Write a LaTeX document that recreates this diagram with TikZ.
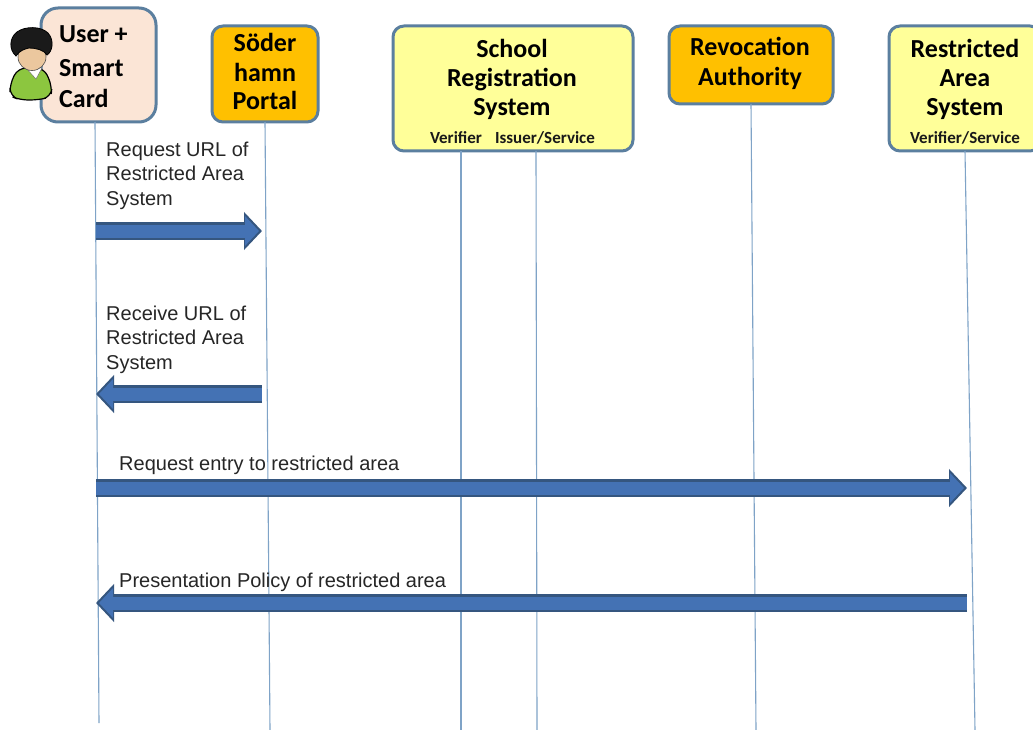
\documentclass[tikz,border=0pt]{standalone}
\usepackage{fontspec}
\setmainfont{Liberation Sans}
\newfontfamily\boxfont{Carlito}[BoldFont=Carlito Bold]
\usetikzlibrary{arrows.meta}
\definecolor{edgeblue}{HTML}{5B7F9F}
\definecolor{lifeblue}{HTML}{7FA3C7}
\definecolor{peach}{HTML}{FBE5D6}
\definecolor{amber}{HTML}{FFC000}
\definecolor{paleyellow}{HTML}{FFFF99}
\definecolor{arrowfill}{HTML}{4472B4}
\definecolor{arrowedge}{HTML}{35567F}
\definecolor{hair}{HTML}{1A1A1A}
\definecolor{skin}{HTML}{EBC79E}
\definecolor{shirt}{HTML}{8CC63F}
\tikzset{
  x=1pt,y=-1pt,
  actor/.style={draw=edgeblue,line width=3pt,rectangle,rounded corners=11pt,inner sep=0pt},
  lifeline/.style={draw=lifeblue,line width=1.1pt},
  bigarrow/.style={line width=18pt,draw=arrowedge,-{Triangle[length=18pt,width=37pt,fill=arrowedge]},
    postaction={draw=arrowfill,line width=13pt,shorten >=3pt,-{Triangle[length=14pt,width=29pt,fill=arrowfill]}}},
  boxtext/.style={font=\boxfont\bfseries\fontsize{26}{28}\selectfont,text=black,anchor=base,inner sep=0pt},
  smalltext/.style={font=\boxfont\bfseries\fontsize{17}{19}\selectfont,text=black!90,anchor=base,inner sep=0pt},
  msg/.style={font=\fontsize{20}{24.5}\selectfont,text=black!85,anchor=north west,align=left,inner sep=0pt},
}
\begin{document}
\begin{tikzpicture}
\useasboundingbox (0,0) rectangle (1033,730);
\clip (0,0) rectangle (1033,730);
\fill[white] (0,0) rectangle (1033,730);
% lifeline ends
\coordinate (userTop) at (95,122);   \coordinate (userEnd) at (99,723);
\coordinate (portTop) at (265,122);  \coordinate (portEnd) at (270,730);
\coordinate (verTop) at (461,151);   \coordinate (verEnd) at (461,730);
\coordinate (issTop) at (536,151);   \coordinate (issEnd) at (537,730);
\coordinate (revTop) at (751,104);   \coordinate (revEnd) at (756,730);
\coordinate (resTop) at (965,151);   \coordinate (resEnd) at (975,730);
% boxes
\node[actor,fill=peach,rounded corners=17pt,minimum width=115pt,minimum height=114pt] (user) at (98.5,65) {};
\node[actor,fill=amber,minimum width=106pt,minimum height=96pt] (portal) at (265,74) {};
\node[actor,fill=paleyellow,minimum width=240pt,minimum height=125pt] (school) at (513,88.5) {};
\node[actor,fill=amber,minimum width=164pt,minimum height=78pt] (revoc) at (751,65) {};
\node[actor,fill=paleyellow,minimum width=152pt,minimum height=125pt] (restr) at (965,88.5) {};
% lifelines
\draw[lifeline] (userTop) -- (userEnd);
\draw[lifeline] (portTop) -- (portEnd);
\draw[lifeline] (verTop) -- (verEnd);
\draw[lifeline] (issTop) -- (issEnd);
\draw[lifeline] (revTop) -- (revEnd);
\draw[lifeline] (resTop) -- (resEnd);
% box texts
\node[boxtext,anchor=base west] (t1) at (59,43) {User +};
\node[boxtext,anchor=base west] (t2) at (59,77) {Smart};
\node[boxtext,anchor=base west] (t3) at (59,108) {Card};
\node[boxtext] (t4) at (265,52) {Söder};
\node[boxtext] (t5) at (265,82) {hamn};
\node[boxtext] (t6) at (265,110) {Portal};
\node[boxtext] (t7) at (512,58) {School};
\node[boxtext] (t8) at (512,87) {Registration};
\node[boxtext] (t9) at (512,116) {System};
\node[smalltext] (t10) at (456,144) {Verifier};
\node[smalltext] (t11) at (545,144) {Issuer/Service};
\node[boxtext] (t12) at (750,56) {Revocation};
\node[boxtext] (t13) at (750,86) {Authority};
\node[boxtext] (t14) at (965,58) {Restricted};
\node[boxtext] (t15) at (965,87) {Area};
\node[boxtext] (t16) at (965,116) {System};
\node[smalltext] (t17) at (965,144) {Verifier/Service};
% arrows
\coordinate (a1s) at (96,231);  \coordinate (a1e) at (262,231);
\coordinate (a2s) at (262,394); \coordinate (a2e) at (96,394);
\coordinate (a3s) at (96,488);  \coordinate (a3e) at (967,488);
\coordinate (a4s) at (967,603); \coordinate (a4e) at (96,603);
\draw[bigarrow] (a1s) -- (a1e);
\draw[bigarrow] (a2s) -- (a2e);
\draw[bigarrow] (a3s) -- (a3e);
\draw[bigarrow] (a4s) -- (a4e);
% labels
\node[msg] (m1) at (106,141.5) {Request URL of\\Restricted Area\\System};
\node[msg] (m2) at (106,305.5) {Receive URL of\\Restricted Area\\System};
\node[msg] (m3) at (119,456) {Request entry to restricted area};
\node[msg] (m4) at (119,573) {Presentation Policy of restricted area};
% person icon
\draw[draw=black,line width=1.2pt,fill=shirt,rounded corners=8pt]
  (18,68) -- (44,68) -- (52,86) -- (51,97) -- (38,100) -- (20,100) -- (10,96) -- (10,84) -- cycle;
\fill[white,draw=black!60,line width=.4pt] (26,68) -- (42,68) -- (36,79) -- cycle;
\draw[draw=black!70,line width=.6pt,fill=skin] (32,57) ellipse (14pt and 13.5pt);
\draw[draw=black,line width=.8pt,fill=hair]
  (16,56) .. controls (9,50) and (9,38) .. (17,32)
  .. controls (25,26) and (41,26) .. (48,33)
  .. controls (55,41) and (52,52) .. (47,55)
  .. controls (44,50) and (36,48) .. (29,48)
  .. controls (25,49) and (20,50) .. (16,56) -- cycle;
\end{tikzpicture}
\end{document}
